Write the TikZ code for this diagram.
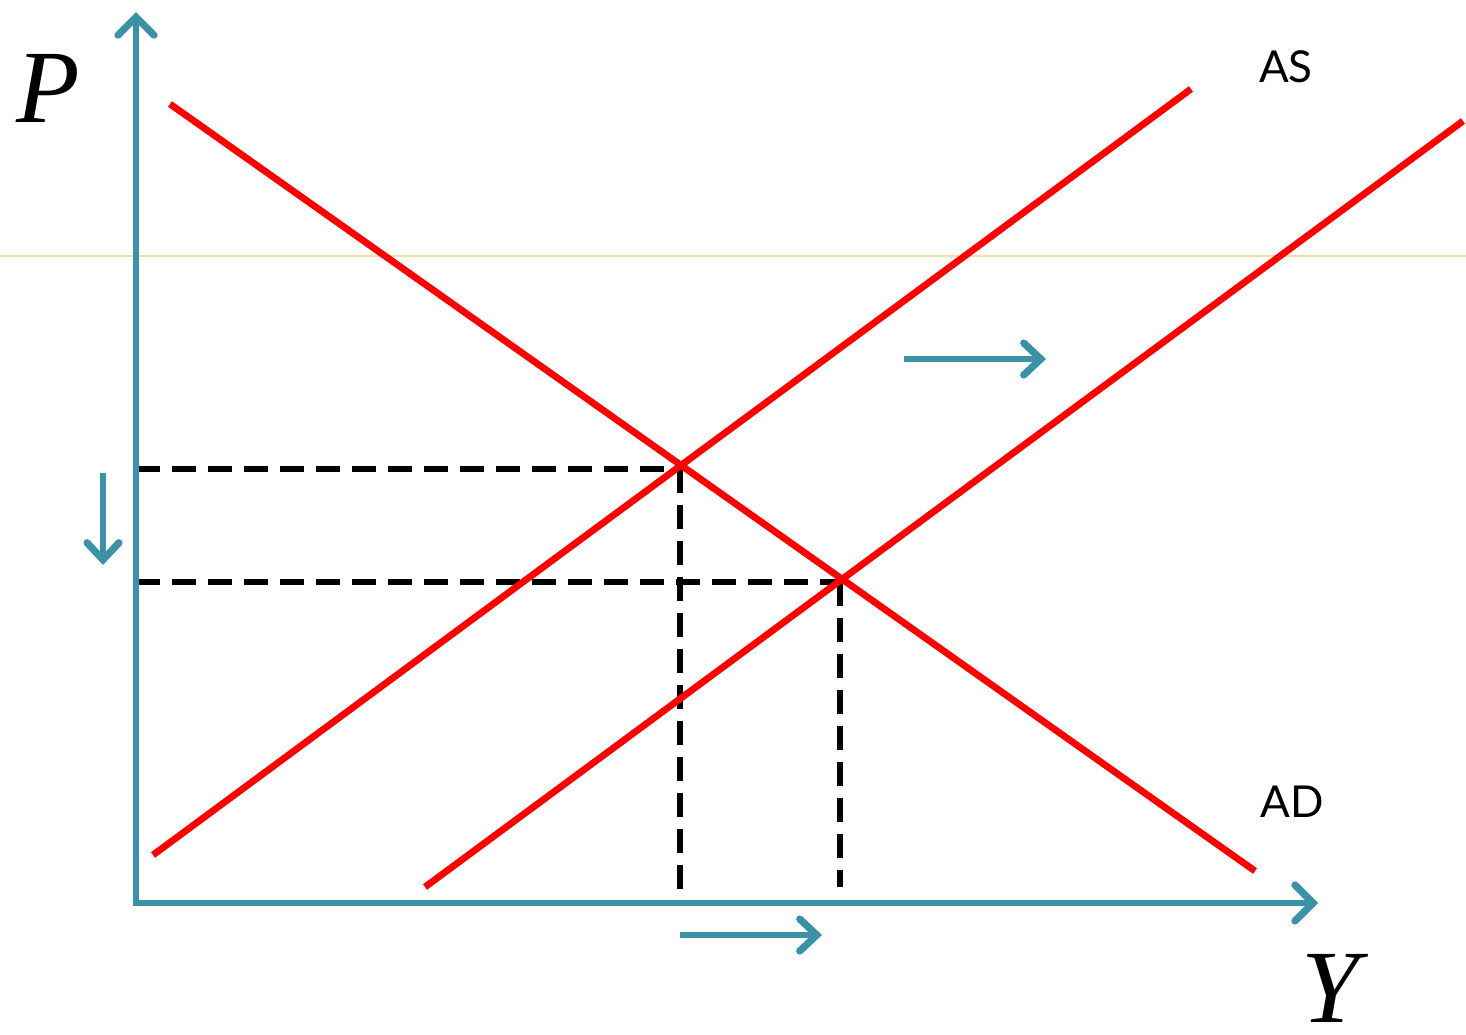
\documentclass[tikz,border=0pt]{standalone}
\usepackage{fontspec}
\setmainfont{Liberation Serif}
\newfontfamily\labfont{Lato}
\usetikzlibrary{arrows.meta}
\definecolor{axisblue}{HTML}{3A91A8}
\definecolor{curvered}{HTML}{FF0000}
\definecolor{faintyellow}{HTML}{F5DFA0}
\begin{document}
\begin{tikzpicture}[x=0.5pt,y=-0.5pt,
  axis/.style={draw=axisblue,line width=3.4pt,-{Straight Barb[length=9pt,width=18pt,line cap=round,line width=3.6pt]}},
  shiftarrow/.style={draw=axisblue,line width=3.2pt,-{Straight Barb[length=8.5pt,width=16pt,line cap=round,line width=3.6pt]}},
  curve/.style={draw=curvered,line width=3.4pt},
  guide/.style={draw=black,line width=3pt,dash pattern=on 12pt off 6pt},
  curvelabel/.style={font=\labfont\fontsize{22}{24}\selectfont,inner sep=0pt},
  axislabel/.style={font=\itshape\fontsize{52}{56}\selectfont,inner sep=0pt}]
\useasboundingbox (0,0) rectangle (1466,1034);
\draw[faintyellow,line width=0.6pt] (0,256) -- (1466,256);
% coordinates
\coordinate (O) at (136,903);
\coordinate (Ptop) at (136,12);
\coordinate (Yend) at (1318,903);
\coordinate (ADa) at (170,104);
\coordinate (ADb) at (1255,871);
\coordinate (AS1a) at (153,855);
\coordinate (AS1b) at (1191,89);
\coordinate (AS2a) at (425,887);
\coordinate (AS2b) at (1463,121);
\coordinate (E1) at (680,469);
\coordinate (E2) at (840,582);
\coordinate (P1) at (136,469);
\coordinate (P2) at (136,582);
\coordinate (Y1) at (680,903);
\coordinate (Y2) at (840,887);
\coordinate (dA) at (103,473);
\coordinate (dB) at (103,565);
\coordinate (rA) at (904,359);
\coordinate (rB) at (1046,359);
\coordinate (bA) at (680,935);
\coordinate (bB) at (822,935);
% guides
\draw[guide] (P1) -- (E1);
\draw[guide] (P2) -- (E2);
\draw[guide] (E1) -- (Y1);
\draw[guide] (E2) -- (Y2);
% curves
\draw[curve] (ADa) -- (ADb);
\draw[curve] (AS1a) -- (AS1b);
\draw[curve] (AS2a) -- (AS2b);
% axes
\draw[axis] (O) -- (Ptop);
\draw[axis] ([xshift=-1.7pt]O) -- (Yend);
% shift arrows
\draw[shiftarrow] (dA) -- (dB);
\draw[shiftarrow] (rA) -- (rB);
\draw[shiftarrow] (bA) -- (bB);
% labels
\node[axislabel] (Plab) at (48,88) {P};
\node[axislabel,anchor=base] (Ylab) at (1330,1022) {Y};
\node[curvelabel] (ASlab) at (1286,67) {AS};
\node[curvelabel] (ADlab) at (1292,802) {AD};
\end{tikzpicture}
\end{document}
